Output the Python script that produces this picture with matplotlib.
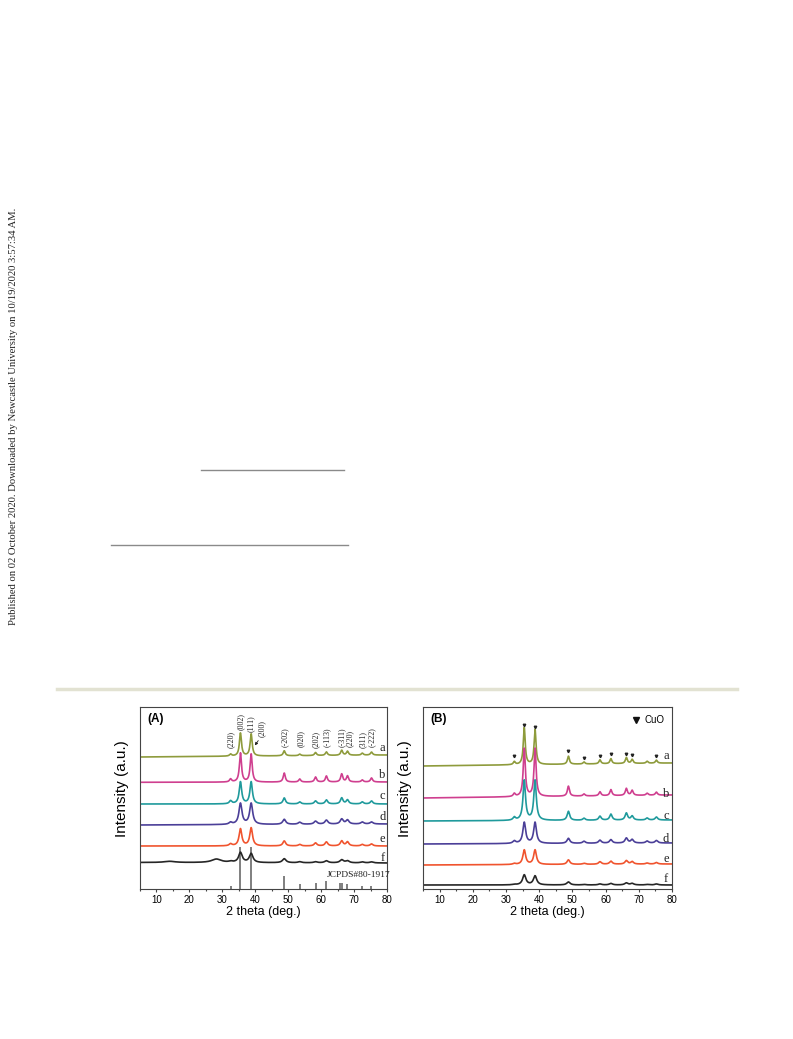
import numpy as np
import matplotlib.pyplot as plt
from matplotlib.ticker import MultipleLocator

# ---------------- data ----------------
samples = ['a', 'b', 'c', 'd', 'e', 'f']
colors = ['#8e9b3c', '#cf3f8f', '#1f9a9c', '#4b3f98', '#f0542e', '#262626']

# CuO reflections (2 theta, deg)
peak_pos = [32.5, 35.5, 38.75, 48.8, 53.5, 58.3, 61.6, 66.25, 68.0, 72.5, 75.3]

# Panel A: peak heights above baseline (a.u.), per sample
A_a = [2, 23, 22, 5, 1.5, 3, 3.5, 5, 4, 2, 3]
A_b = [3, 29, 28, 9, 3, 5, 6, 8, 6, 2, 4]
A_c = [3, 22, 22, 6, 2, 3, 4, 6, 4, 2, 3]
A_d = [2, 21, 21, 5, 2, 3, 4, 5, 4, 2, 2]
A_e = [2, 17, 18, 5, 1.5, 3, 4, 5, 4, 1.5, 2]
A_f = [1, 10, 9, 4, 1, 1, 2, 3, 2, 1, 1]
A_heights = [A_a, A_b, A_c, A_d, A_e, A_f]
A_fwhm = [0.75, 0.75, 0.9, 1.1, 1.0, 1.3]
A_base_left = [132, 106.7, 85, 64, 43, 26.5]
A_base_right = [134, 107, 85, 65, 43, 26]
# broad humps of sample f in panel A
A_f_hump_pos = [14.0, 28.2]
A_f_hump_h = [1.2, 3.5]
A_f_hump_w = [4.0, 3.5]

# JCPDS#80-1917 reference sticks
stick_pos = [32.5, 35.5, 38.7, 48.7, 53.5, 58.3, 61.5, 65.8, 66.3, 68.0, 72.4, 75.1]
stick_h = [3.5, 42, 42, 13, 5, 6, 8, 6, 6, 5.5, 3, 3]

# Panel A hkl labels
hkl_labels = ['(220)', '(002)', '(111)', '(200)', '(-202)', '(020)', '(202)',
              '(-113)', '(-311)', '(220)', '(311)', '(-222)']
hkl_x = [32.6, 35.6, 38.6, 42.0, 48.9, 53.7, 58.3, 61.6, 66.4, 68.6, 72.6, 75.5]
hkl_y = [141, 159, 157, 152, 142, 142, 141, 142, 142, 142, 141, 142]

# Panel B: peak heights above baseline
B_a = [3, 37, 35, 8, 2, 4, 5, 6, 4, 2, 3]
B_b = [3, 48, 48, 10, 2, 4, 6, 7, 5, 2, 3]
B_c = [3, 40, 40, 9, 2, 4, 6, 7, 4, 2, 3]
B_d = [2.5, 21, 21, 5, 2, 3, 3.5, 5, 3.5, 2, 2.5]
B_e = [1, 14.5, 14.5, 4.5, 1, 2.5, 3, 3.5, 2.5, 1, 1.5]
B_f = [0.5, 10, 9, 3, 0.5, 1, 1.5, 2, 1.5, 0.5, 1]
B_heights = [B_a, B_b, B_c, B_d, B_e, B_f]
B_fwhm = [0.7, 0.75, 0.9, 1.0, 1.0, 1.2]
B_base_left = [123, 91, 68, 45, 24, 4]
B_base_right = [126, 94, 69, 46, 25, 4]

# CuO markers above curve a in panel B
tri_x = [32.5, 35.5, 38.75, 48.8, 53.5, 58.3, 61.6, 66.25, 68.0, 75.3]
tri_y = [133, 164, 162, 138, 131, 133, 135, 135, 134, 133]

A_letter_y = [141, 114, 93, 72, 50, 31]
B_letter_y = [133, 95, 73, 50, 30, 10]

# ---------------- drawing ----------------
plt.rcParams['font.family'] = ['Liberation Sans', 'DejaVu Sans']
fig = plt.figure(figsize=(7.93, 10.39), dpi=100)

# page decorations
fig.text(14 / 793, 1 - 416 / 1039,
         'Published on 02 October 2020. Downloaded by Newcastle University on 10/19/2020 3:57:34 AM.',
         rotation=90, ha='center', va='center', fontsize=7.7,
         family='Liberation Serif', color='#222222')
fig.add_artist(plt.Line2D([201 / 793, 344 / 793], [1 - 470 / 1039] * 2,
                          color='#8a8a8a', lw=1.0))
fig.add_artist(plt.Line2D([111 / 793, 348 / 793], [1 - 545 / 1039] * 2,
                          color='#8a8a8a', lw=1.0))
fig.add_artist(plt.Line2D([57 / 793, 737 / 793], [1 - 688.5 / 1039] * 2,
                          color='#e2e2d2', lw=2.5))

x = np.linspace(5, 80, 3000)


def lor(xc, h, w):
    return h / (1 + ((x - xc) / (w / 2)) ** 2)


def pattern(heights, w, b0, b1):
    y = b0 + (b1 - b0) * (x - 5) / 75
    for p, h in zip(peak_pos, heights):
        y = y + lor(p, h, w)
    return y


def style_axes(ax, tag):
    ax.set_xlim(5, 80)
    ax.set_ylim(0, 182)
    ax.xaxis.set_major_locator(MultipleLocator(10))
    ax.xaxis.set_minor_locator(MultipleLocator(5))
    ax.tick_params(axis='x', which='major', direction='out', length=2.5,
                   width=0.8, labelsize=7, pad=1.5, color='#444444')
    ax.tick_params(axis='x', which='minor', direction='out', length=1.3,
                   width=0.8, color='#444444')
    ax.set_yticks([])
    for s in ax.spines.values():
        s.set_color('#444444')
        s.set_linewidth(0.8)
    ax.set_xlabel('2 theta (deg.)', fontsize=9, labelpad=1)
    ax.set_ylabel('Intensity (a.u.)', fontsize=11)
    ax.yaxis.set_label_coords(-0.045, 0.55)
    ax.text(0.03, 0.965, tag, transform=ax.transAxes, ha='left', va='top',
            fontsize=8.5, fontweight='bold')


axA = fig.add_axes([140 / 793, 1 - 889 / 1039, 247 / 793, 182 / 1039])
axB = fig.add_axes([423 / 793, 1 - 889 / 1039, 249 / 793, 182 / 1039])

# Panel A
axA.vlines(stick_pos, 0, stick_h, color='#6a6a6a', lw=1.2, zorder=1)
for i, s in enumerate(samples):
    y = pattern(A_heights[i], A_fwhm[i], A_base_left[i], A_base_right[i])
    if s == 'f':
        for p, h, w in zip(A_f_hump_pos, A_f_hump_h, A_f_hump_w):
            y = y + lor(p, h, w)
    axA.plot(x, y, color=colors[i], lw=1.2, zorder=2)
    axA.text(78.6, A_letter_y[i], s, ha='center', va='center', fontsize=9,
             family='Liberation Serif', color='#222222')
axA.text(71.5, 14, 'JCPDS#80-1917', ha='center', va='center', fontsize=6.8,
         family='Liberation Serif', color='#222222')
for lab, hx, hy in zip(hkl_labels, hkl_x, hkl_y):
    axA.text(hx, hy, lab, rotation=90, ha='center', va='bottom', fontsize=5.8,
             family='Liberation Serif', color='#222222')
axA.annotate('', xy=(39.4, 141.3), xytext=(41.4, 150.7),
             arrowprops=dict(arrowstyle='-|>', color='#222222', lw=0.6,
                             mutation_scale=4))
style_axes(axA, '(A)')

# Panel B
for i, s in enumerate(samples):
    y = pattern(B_heights[i], B_fwhm[i], B_base_left[i], B_base_right[i])
    axB.plot(x, y, color=colors[i], lw=1.2)
    axB.text(78.2, B_letter_y[i], s, ha='center', va='center', fontsize=9,
             family='Liberation Serif', color='#222222')
axB.plot(tri_x, tri_y, linestyle='none', marker='v', markersize=1.8,
         color='#222222')
axB.plot([69.3], [169], linestyle='none', marker='v', markersize=5,
         color='#111111')
axB.text(71.6, 169, 'CuO', ha='left', va='center', fontsize=7)
style_axes(axB, '(B)')

fig.savefig('out.png', dpi=100)
